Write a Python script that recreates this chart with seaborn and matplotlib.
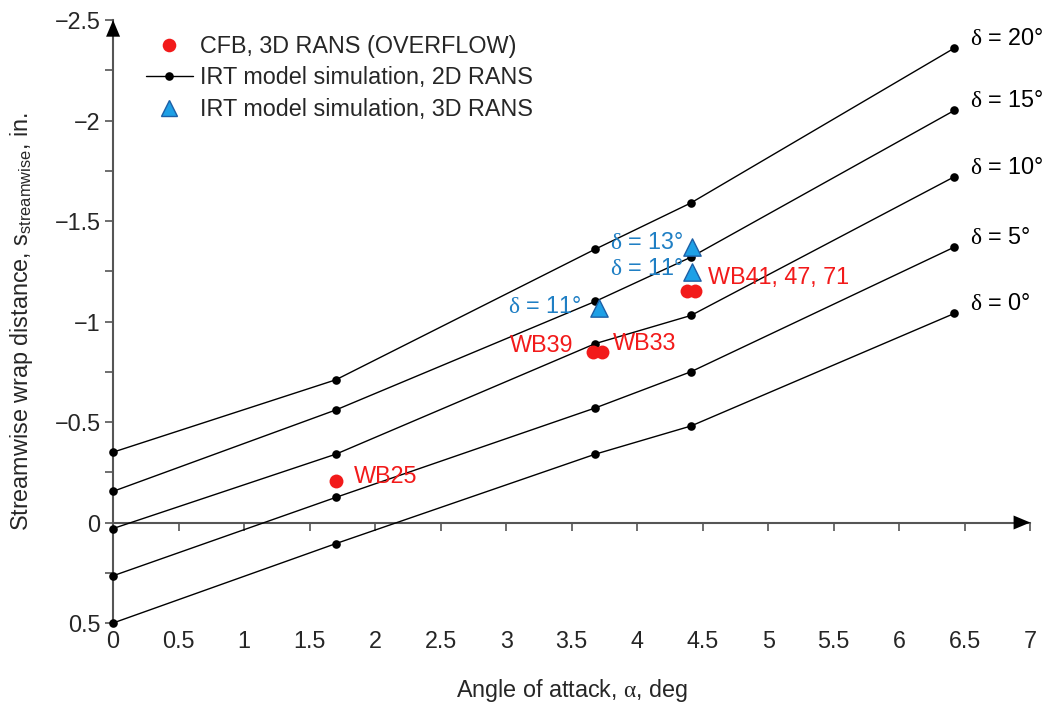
import numpy as np
import pandas as pd
import matplotlib
matplotlib.use("Agg")
import matplotlib.pyplot as plt
from matplotlib.lines import Line2D
from matplotlib.ticker import FixedLocator, MultipleLocator
import seaborn as sns

# ---------------- data ----------------
alpha = [0.0, 1.7, 3.68, 4.41, 6.42]
delta_levels = [20, 15, 10, 5, 0]
s_d20 = [-0.35, -0.71, -1.36, -1.59, -2.36]
s_d15 = [-0.155, -0.56, -1.10, -1.32, -2.05]
s_d10 = [0.03, -0.34, -0.89, -1.03, -1.72]
s_d5 = [0.265, -0.125, -0.57, -0.75, -1.37]
s_d0 = [0.50, 0.105, -0.34, -0.48, -1.04]

cfb_alpha = [1.7, 3.66, 3.73, 4.38, 4.44]
cfb_s = [-0.205, -0.85, -0.85, -1.15, -1.15]
cfb_labels = ["WB25", "WB39", "WB33", "WB41, 47, 71", ""]

rans3d_alpha = [3.71, 4.42, 4.42]
rans3d_s = [-1.065, -1.37, -1.245]
rans3d_delta = [11, 13, 11]

xticks = [0, 0.5, 1, 1.5, 2, 2.5, 3, 3.5, 4, 4.5, 5, 5.5, 6, 6.5, 7]
xtick_labels = ["0", "0.5", "1", "1.5", "2", "2.5", "3", "3.5", "4", "4.5",
                "5", "5.5", "6", "6.5", "7"]
yticks = [-2.5, -2, -1.5, -1, -0.5, 0, 0.5]
ytick_labels = ["\u22122.5", "\u22122", "\u22121.5", "\u22121", "\u22120.5", "0", "0.5"]

legend_labels = ["CFB, 3D RANS (OVERFLOW)", "IRT model simulation, 2D RANS",
                 "IRT model simulation, 3D RANS"]

# ---------------- style ----------------
sns.set_theme(style="white")
plt.rcParams["font.family"] = ["Liberation Sans", "DejaVu Sans"]
plt.rcParams["mathtext.fontset"] = "custom"
plt.rcParams["mathtext.rm"] = "Liberation Serif"
plt.rcParams["mathtext.sf"] = "Liberation Sans"
plt.rcParams["mathtext.it"] = "Liberation Sans:italic"
FS = 16.8
RED = "#f21a1a"
BLUE_TXT = "#1f7fc4"
BLUE_FACE = "#1ea0e6"
BLUE_EDGE = "#1d5fa6"

fig = plt.figure(figsize=(10.47, 7.05), dpi=100)
ax = fig.add_axes([0.108, 0.1163, 0.876, 0.8553])

# ---------------- lines (2D RANS) ----------------
series = [s_d20, s_d15, s_d10, s_d5, s_d0]
df = pd.DataFrame({
    "alpha": np.tile(alpha, len(series)),
    "s": np.concatenate(series),
    "delta": np.repeat(delta_levels, len(alpha)),
})
sns.lineplot(data=df, x="alpha", y="s", units="delta", estimator=None,
             color="black", lw=1.0, marker="o", markersize=6.2,
             markeredgewidth=0, ax=ax, zorder=3, clip_on=False)

# ---------------- CFB points ----------------
cfb = pd.DataFrame({"alpha": cfb_alpha, "s": cfb_s})
sns.scatterplot(data=cfb, x="alpha", y="s", color=RED, s=100, linewidth=0,
                ax=ax, zorder=4)

# ---------------- 3D RANS points ----------------
r3 = pd.DataFrame({"alpha": rans3d_alpha, "s": rans3d_s})
sns.scatterplot(data=r3, x="alpha", y="s", marker="^", color=BLUE_FACE,
                edgecolor=BLUE_EDGE, linewidth=1.0, s=155, ax=ax, zorder=5)

# ---------------- axes ----------------
ax.set_xlim(xticks[0], xticks[-1])
ax.set_ylim(yticks[-1], yticks[0])
for side in ["top", "right"]:
    ax.spines[side].set_visible(False)
ax.spines["bottom"].set_position(("data", 0))
ax.spines["left"].set_color("#555555")
ax.spines["bottom"].set_color("#555555")
ax.spines["left"].set_linewidth(1.5)
ax.spines["bottom"].set_linewidth(1.5)

ax.xaxis.set_major_locator(FixedLocator(xticks))
ax.tick_params(axis="x", which="both", direction="out", length=6, width=1.2,
               color="#555555", labelbottom=False, bottom=True)
ax.set_yticks(yticks)
ax.set_yticklabels(ytick_labels)
ax.yaxis.set_minor_locator(MultipleLocator(0.25))
ax.tick_params(axis="y", which="both", direction="out", length=6, width=1.2,
               color="#555555", labelsize=FS, pad=3, left=True)
ax.set_xlabel("")
ax.set_ylabel(r"Streamwise wrap distance, $\mathsf{s}_{\mathsf{streamwise}}$, in.",
              fontsize=FS, labelpad=14)

sec = ax.secondary_xaxis("bottom")
sec.set_xticks(xticks)
sec.set_xticklabels(xtick_labels)
sec.tick_params(length=0, labelsize=FS, pad=5)
sec.spines["bottom"].set_visible(False)
sec.set_xlabel(r"Angle of attack, $\mathrm{\alpha}$, deg", fontsize=FS, labelpad=17)

# arrow heads
ylo, yhi = ax.get_ylim()
xlo, xhi = ax.get_xlim()
head = "-|>,head_length=1.0,head_width=0.42"
ax.annotate("", xy=(xlo, yhi), xytext=(xlo, yhi + 0.08), xycoords="data",
            arrowprops=dict(arrowstyle=head, color="black", lw=0,
                            shrinkA=0, shrinkB=0),
            annotation_clip=False)
ax.annotate("", xy=(xhi, 0), xytext=(xhi - 0.12, 0), xycoords="data",
            arrowprops=dict(arrowstyle=head, color="black", lw=0,
                            shrinkA=0, shrinkB=0),
            annotation_clip=False)

# ---------------- annotations ----------------
for d, ser in zip(delta_levels, series):
    ax.annotate(r"$\mathrm{\delta}$ = %d°" % d, xy=(alpha[-1], ser[-1]),
                xytext=(11, 7), textcoords="offset points", fontsize=FS,
                ha="left", va="center", color="black")

cfb_offsets = [(13, 3.5, "left"), (-14, 4.5, "right"), (8, 6, "left"),
               (15, 10, "left")]
for (a, s, lab), (dx, dy, ha) in zip(zip(cfb_alpha, cfb_s, cfb_labels), cfb_offsets):
    ax.annotate(lab, xy=(a, s), xytext=(dx, dy), textcoords="offset points",
                fontsize=FS, ha=ha, va="center", color=RED)

r3_offsets = [(-13, 1.5), (-6, 3), (-6, 3)]
for a, s, d, (dx, dy) in zip(rans3d_alpha, rans3d_s, rans3d_delta, r3_offsets):
    ax.annotate(r"$\mathrm{\delta}$ = %d°" % d, xy=(a, s), xytext=(dx, dy),
                textcoords="offset points", fontsize=FS, ha="right",
                va="center", color=BLUE_TXT)

# ---------------- legend ----------------
handles = [
    Line2D([], [], ls="none", marker="o", color=RED, ms=9.8, mew=0),
    Line2D([], [], ls="-", lw=1.0, marker="o", color="black", ms=6.2, mew=0),
    Line2D([], [], ls="none", marker="^", color=BLUE_FACE, mec=BLUE_EDGE,
           ms=11, mew=1.0),
]
ax.legend(handles, legend_labels, loc="upper left", bbox_to_anchor=(0.036, 0.975),
          frameon=False, fontsize=FS, handlelength=2.0, handletextpad=0.3,
          labelspacing=0.36, borderaxespad=0, borderpad=0)

fig.savefig("out.png", dpi=100)
